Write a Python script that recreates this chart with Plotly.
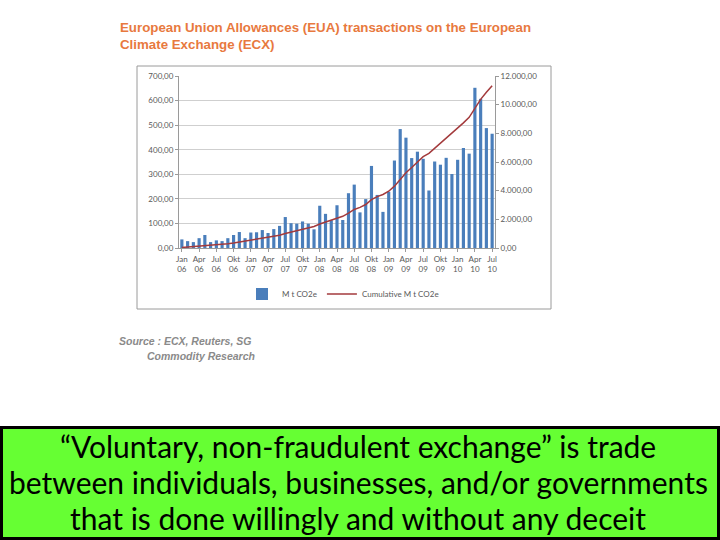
import plotly.graph_objects as go

month_names = ["Jan", "Feb", "Mar", "Apr", "May", "Jun", "Jul", "Aug", "Sep", "Okt", "Nov", "Dec"]
years = ["06", "07", "08", "09", "10"]
categories = [f"{m} {y}" for y in years for m in month_names][:55]

monthly_mt = [35, 28, 24, 40, 53, 24, 31, 28, 40, 53,
              65, 40, 63, 64, 73, 61, 77, 90, 126, 101,
              99, 108, 99, 76, 172, 139, 113, 174, 114, 223,
              258, 145, 199, 334, 216, 147, 229, 356, 484, 449,
              366, 392, 363, 234, 352, 339, 367, 301, 359, 407,
              384, 652, 607, 488, 465]

cumulative_mt = [35, 63, 87, 127, 180, 204, 235, 263, 303, 356,
                 421, 461, 524, 588, 661, 722, 799, 889, 1015, 1116,
                 1215, 1323, 1422, 1498, 1670, 1809, 1922, 2096, 2210, 2433,
                 2691, 2836, 3035, 3369, 3585, 3732, 3961, 4317, 4801, 5250,
                 5616, 6008, 6371, 6605, 6957, 7296, 7663, 7964, 8323, 8730,
                 9114, 9766, 10373, 10861, 11326]

tick_cats = categories[::3]
tick_text = [c.replace(" ", "<br>") for c in tick_cats]

title_lines = ["European Union Allowances (EUA) transactions on the European",
               "Climate Exchange (ECX)"]
source_lines = ["Source : ECX, Reuters, SG", "Commodity Research"]
quote_lines = ["\u201cVoluntary, non-fraudulent exchange\u201d is trade",
               "between individuals, businesses, and/or governments",
               "that is done willingly and without any deceit"]

# plot area in pixels
L, R, T, B = 179, 495, 76, 248
W, H = R - L, B - T
def px(x):
    return (x - L) / W
def py(y):
    return (B - y) / H

fig = go.Figure()
fig.add_trace(go.Bar(x=categories, y=monthly_mt, name="M t CO2e",
                     marker=dict(color="#4A7EBB", line=dict(width=0))))
fig.add_trace(go.Scatter(x=categories, y=cumulative_mt, name="Cumulative M t CO2e",
                         yaxis="y2", mode="lines",
                         line=dict(color="#A33A3C", width=1.5)))

axis_font = dict(family="Lato, Arial, sans-serif", size=8, color="#595959")

fig.update_layout(
    width=720, height=540,
    margin=dict(l=L, r=720 - R, t=T, b=540 - B, pad=0),
    paper_bgcolor="white", plot_bgcolor="white",
    separators=",.",
    bargap=0.45,
    showlegend=True,
    legend=dict(orientation="h", x=px(343), y=py(294), xanchor="center", yanchor="middle",
                font=dict(family="Lato, Arial, sans-serif", size=8, color="#595959"),
                itemwidth=30, bgcolor="rgba(0,0,0,0)"),
    xaxis=dict(type="category", tickvals=tick_cats, ticktext=tick_text,
               tickfont=axis_font, ticks="outside", ticklen=3, tickcolor="#9a9a9a",
               showline=True, linecolor="#9a9a9a", linewidth=1, showgrid=False,
               tickangle=0, range=[-0.5, 54.5]),
    yaxis=dict(range=[0, 700], dtick=100, tickformat=",.2f", tickfont=axis_font,
               showgrid=True, gridcolor="#CFCFCF", gridwidth=1,
               showline=True, linecolor="#9a9a9a", ticks="outside", ticklen=3,
               tickcolor="#9a9a9a", zeroline=False),
    yaxis2=dict(range=[0, 12000], dtick=2000, tickformat=",.2f", tickfont=axis_font,
                overlaying="y", side="right", showgrid=False,
                showline=True, linecolor="#9a9a9a", ticks="outside", ticklen=3,
                tickcolor="#9a9a9a", zeroline=False),
)

shapes = [
    dict(type="rect", xref="paper", yref="paper", x0=px(137), x1=px(551), y0=py(309), y1=py(66),
         line=dict(color="#9a9a9a", width=1), fillcolor="rgba(0,0,0,0)", layer="below"),
    dict(type="rect", xref="paper", yref="paper", x0=px(1.5), x1=px(718.5), y0=py(538.5), y1=py(427.5),
         line=dict(color="black", width=3), fillcolor="#66FF33", layer="above"),
]
fig.update_layout(shapes=shapes)

ann = []
for i, t in enumerate(title_lines):
    ann.append(dict(text="<b>" + t + "</b>", x=px(118), y=py(28 + 17 * i), xref="paper", yref="paper",
                    xanchor="left", yanchor="middle", showarrow=False,
                    font=dict(family="Arial, Liberation Sans, sans-serif", size=13.3, color="#E8793E")))
ann.append(dict(text="<b><i>" + source_lines[0] + "</i></b>", x=px(117), y=py(341), xref="paper", yref="paper",
                xanchor="left", yanchor="middle", showarrow=False,
                font=dict(family="Arial, Liberation Sans, sans-serif", size=10.5, color="#8A8A8A")))
ann.append(dict(text="<b><i>" + source_lines[1] + "</i></b>", x=px(145), y=py(356), xref="paper", yref="paper",
                xanchor="left", yanchor="middle", showarrow=False,
                font=dict(family="Arial, Liberation Sans, sans-serif", size=10.5, color="#8A8A8A")))
for i, t in enumerate(quote_lines):
    ann.append(dict(text=t, x=px(358), y=py(446 + 36 * i), xref="paper", yref="paper",
                    xanchor="center", yanchor="middle", showarrow=False,
                    font=dict(family="Lato, sans-serif", size=30, color="black")))
fig.update_layout(annotations=ann)

fig.write_html("out.html", config={"displayModeBar": False},
               post_script="document.body.style.margin='0px';document.body.style.overflow='hidden';")
